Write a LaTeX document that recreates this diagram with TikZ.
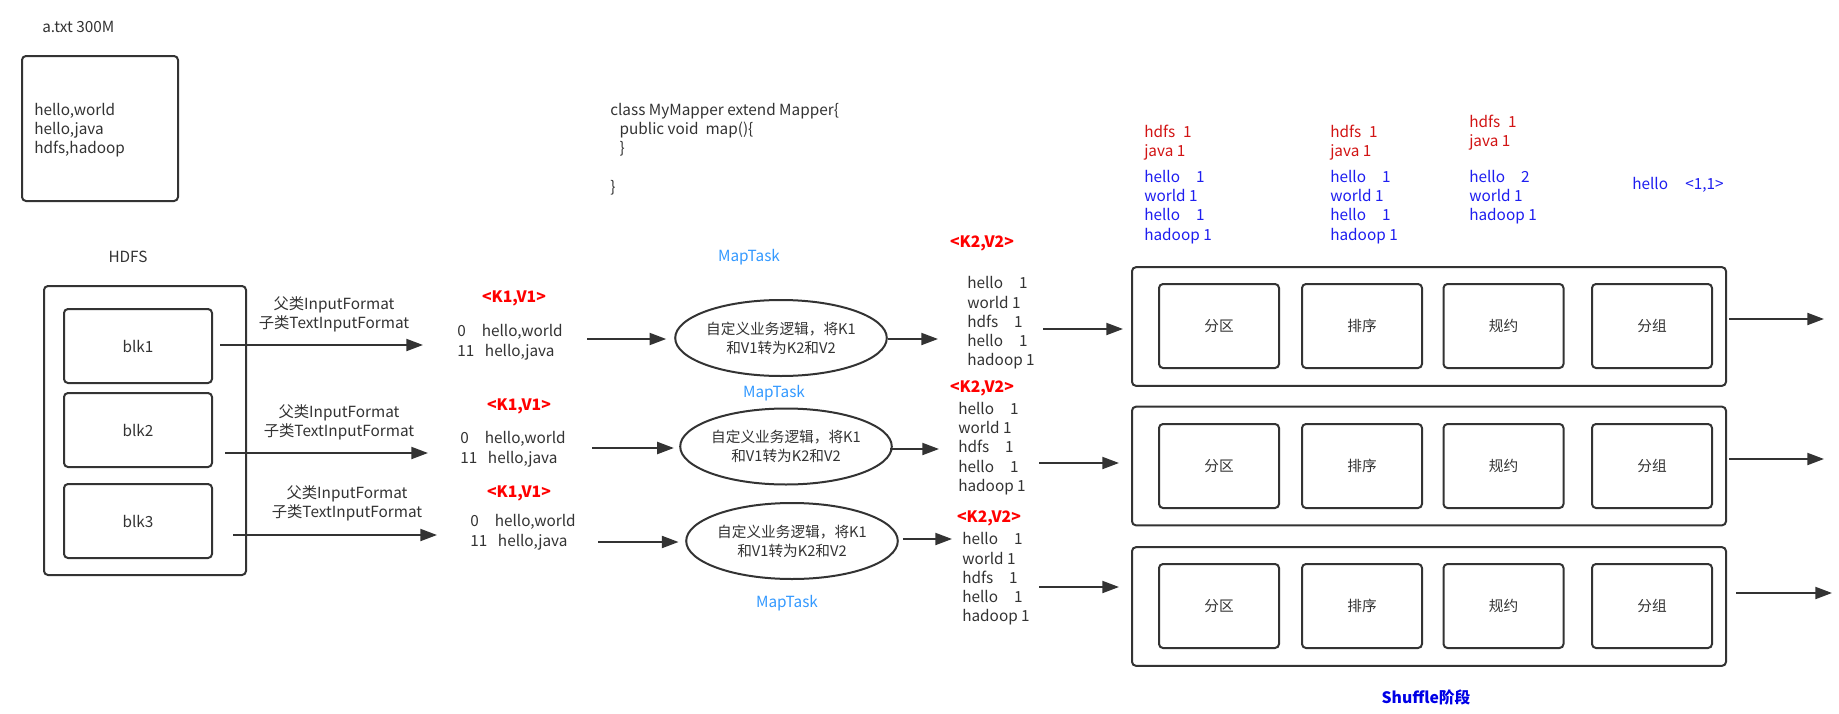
\documentclass[tikz,border=0pt]{standalone}
\usepackage{fontspec}
\setmainfont{Noto Sans CJK SC}
\usetikzlibrary{arrows.meta,shapes.geometric}
\definecolor{ink}{HTML}{333333}
\definecolor{kred}{RGB}{255,0,0}
\definecolor{lred}{RGB}{210,20,20}
\definecolor{lblue}{RGB}{30,30,240}
\definecolor{mtblue}{RGB}{51,153,255}
\definecolor{shblue}{RGB}{0,0,230}
\tikzset{
  box/.style={draw=ink, line width=1.5pt, rounded corners=3pt},
  arr/.style={draw=ink, line width=1.5pt, -{Triangle[length=12.5pt,width=9pt]}},
  txt/.style={inner sep=0pt, text=ink},
  lst/.style={txt, anchor=west, align=left, font=\fontsize{11.5}{14.4}\selectfont},
  klab/.style={inner sep=0pt, text=kred, font=\fontsize{11.8}{13}\selectfont\bfseries},
  mt/.style={inner sep=0pt, text=mtblue},
  ell/.style={draw=ink, line width=1.5pt, ellipse, minimum width=148pt, minimum height=57pt, inner sep=0pt, align=center, text=ink, font=\fontsize{11}{14.3}\selectfont},
  inbox/.style={box, minimum width=90pt, minimum height=63pt, text=ink, fill=white, font=\fontsize{11}{14.3}\selectfont},
  shbox/.style={box, minimum width=445.5pt, minimum height=89pt, fill=white},
  blk/.style={box, minimum width=111pt, minimum height=55.5pt, text=ink}
}
\begin{document}
\begin{tikzpicture}[x=0.75pt, y=-0.75pt, font=\fontsize{11.5}{14.3}\selectfont]
\fill[white] (0,0) rectangle (1839,714);
\useasboundingbox (0,0) rectangle (1839,714);

% file
\node[txt, anchor=west] (fname) at (42,27) {a.txt 300M};
\node[box, minimum width=117pt, minimum height=108.75pt] (file) at (100,128.5) {};
\node[lst] (filetxt) at (34,130) {hello,world\\hello,java\\hdfs,hadoop};

% HDFS
\node[txt] (hdfslab) at (128,257) {HDFS};
\node[box, minimum width=151.5pt, minimum height=216.75pt] (hdfs) at (145,430.5) {};
\node[blk] (blk1) at (138,346) {blk1};
\node[blk] (blk2) at (138,430) {blk2};
\node[blk] (blk3) at (138,521) {blk3};

% input format labels
\node[txt, align=center] (if1) at (334,314.5) {父类InputFormat\\子类TextInputFormat};
\node[txt, align=center] (if2) at (339,422.5) {父类InputFormat\\子类TextInputFormat};
\node[txt, align=center] (if3) at (347,503.5) {父类InputFormat\\子类TextInputFormat};
\coordinate (a1s) at (220,345); \coordinate (a1e) at (423,345);
\coordinate (a2s) at (225,453); \coordinate (a2e) at (428,453);
\coordinate (a3s) at (233,535); \coordinate (a3e) at (437,535);
\draw[arr] (a1s) -- (a1e);
\draw[arr] (a2s) -- (a2e);
\draw[arr] (a3s) -- (a3e);

% K1 V1
\node[klab] (k1a) at (514,298) {<K1,V1>};
\node[klab] (k1b) at (519,406) {<K1,V1>};
\node[klab] (k1c) at (519,493) {<K1,V1>};
\node[lst, font=\fontsize{11.5}{15}\selectfont] (kv1) at (457,342) {0\hspace*{12pt}hello,world\\11\hspace*{8pt}hello,java};
\node[lst, font=\fontsize{11.5}{15}\selectfont] (kv2) at (460,449) {0\hspace*{12pt}hello,world\\11\hspace*{8pt}hello,java};
\node[lst, font=\fontsize{11.5}{15}\selectfont] (kv3) at (470,532) {0\hspace*{12pt}hello,world\\11\hspace*{8pt}hello,java};

% code
\node[lst] (code) at (610,149) {class MyMapper extend Mapper\{\\\hspace*{7pt}public void\ \ map()\{\\\hspace*{7pt}\}\\\mbox{}\\\}};

% MapTasks
\node[mt] (mt1) at (749,257) {MapTask};
\node[mt] (mt2) at (774,393) {MapTask};
\node[mt] (mt3) at (787,603) {MapTask};
\node[ell] (e1) at (781,338) {自定义业务逻辑，将K1\\和V1转为K2和V2};
\node[ell] (e2) at (786,446.5) {自定义业务逻辑，将K1\\和V1转为K2和V2};
\node[ell] (e3) at (792,541) {自定义业务逻辑，将K1\\和V1转为K2和V2};
\coordinate (b1s) at (587,339); \coordinate (b2s) at (592,448); \coordinate (b3s) at (598,542);
\draw[arr, shorten >=6pt] (b1s) -- (e1.west |- b1s);
\draw[arr, shorten >=4pt] (b2s) -- (e2.west |- b2s);
\draw[arr, shorten >=5pt] (b3s) -- (e3.west |- b3s);
\coordinate (c1e) at (938,339); \coordinate (c2e) at (939,449); \coordinate (c3e) at (952,539);
\draw[arr] (e1.east |- c1e) -- (c1e);
\draw[arr] ([xshift=-2pt]e2.east |- c2e) -- (c2e);
\draw[arr, shorten <=3pt] (e3.east |- c3e) -- (c3e);

% K2 V2
\node[klab] (k2a) at (982,243) {<K2,V2>};
\node[klab] (k2b) at (982,388) {<K2,V2>};
\node[klab] (k2c) at (989,518) {<K2,V2>};
\node[lst] (l1) at (967,323) {hello\hspace*{12pt}1\\world 1\\hdfs\hspace*{12pt}1\\hello\hspace*{12pt}1\\hadoop 1};
\node[lst] (l2) at (958,448.5) {hello\hspace*{12pt}1\\world 1\\hdfs\hspace*{12pt}1\\hello\hspace*{12pt}1\\hadoop 1};
\node[lst] (l3) at (962,579) {hello\hspace*{12pt}1\\world 1\\hdfs\hspace*{12pt}1\\hello\hspace*{12pt}1\\hadoop 1};

% shuffle boxes
\node[shbox] (sb1) at (1429,326.5) {};
\node[shbox] (sb2) at (1429,466) {};
\node[shbox] (sb3) at (1429,606.5) {};
\foreach \r/\y in {1/326, 2/466, 3/606}{
  \node[inbox] (p\r) at (1219,\y) {分区};
  \node[inbox] (s\r) at (1362,\y) {排序};
  \node[inbox] (c\r) at (1503.5,\y) {规约};
  \node[inbox] (g\r) at (1652,\y) {分组};
}
\coordinate (d1s) at (1043,329); \coordinate (d2s) at (1039,463); \coordinate (d3s) at (1039,587);
\draw[arr, shorten >=6pt] (d1s) -- (sb1.west |- d1s);
\draw[arr, shorten >=9pt] (d2s) -- (sb2.west |- d2s);
\draw[arr, shorten >=9pt] (d3s) -- (sb3.west |- d3s);
\coordinate (o1e) at (1824,319); \coordinate (o2e) at (1824,459); \coordinate (o3e) at (1832,593);
\draw[arr, shorten <=1.5pt] (sb1.east |- o1e) -- (o1e);
\draw[arr, shorten <=1.5pt] (sb2.east |- o2e) -- (o2e);
\draw[arr, shorten <=7pt] (sb3.east |- o3e) -- (o3e);

% top colored lists
\node[lst, text=lred] (r1) at (1144,142.5) {hdfs\hspace*{6pt}1\\java 1};
\node[lst, text=lblue] (u1) at (1144,207) {hello\hspace*{12pt}1\\world 1\\hello\hspace*{12pt}1\\hadoop 1};
\node[lst, text=lred] (r2) at (1330,142.5) {hdfs\hspace*{6pt}1\\java 1};
\node[lst, text=lblue] (u2) at (1330,207) {hello\hspace*{12pt}1\\world 1\\hello\hspace*{12pt}1\\hadoop 1};
\node[lst, text=lred] (r3) at (1469,132.5) {hdfs\hspace*{6pt}1\\java 1};
\node[lst, text=lblue] (u3) at (1469,197) {hello\hspace*{12pt}2\\world 1\\hadoop 1};
\node[lst, text=lblue] (h11) at (1632,185) {hello\hspace*{13pt}<1,1>};

\node[inner sep=0pt, text=shblue, font=\fontsize{11.8}{13}\selectfont\bfseries] (shlab) at (1426,697) {Shuffle阶段};
\end{tikzpicture}
\end{document}
